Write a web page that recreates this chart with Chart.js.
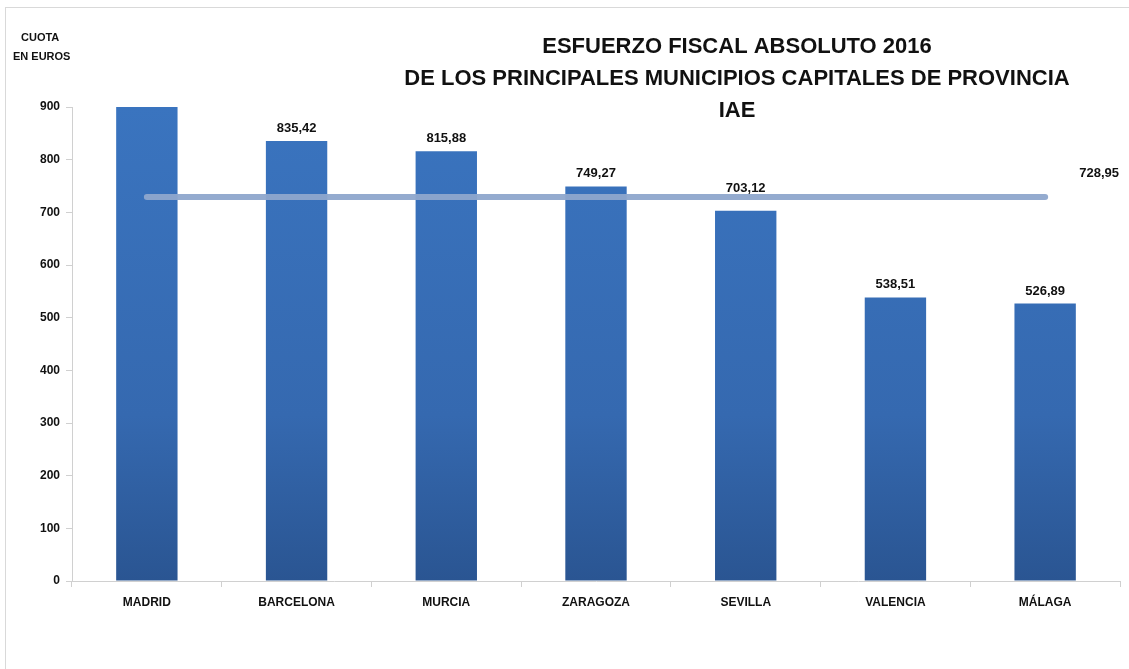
<!DOCTYPE html>
<html><head><meta charset="utf-8">
<script src="https://cdn.jsdelivr.net/npm/chart.js@4/dist/chart.umd.min.js"></script>
<style>
html,body{margin:0;padding:0;background:#fff;}
#wrap{position:relative;width:1129px;height:669px;overflow:hidden;}
#frame{position:absolute;left:5px;top:7px;width:1200px;height:700px;border:1px solid #d9d9d9;box-sizing:border-box;}
canvas{position:absolute;left:0;top:0;}
</style></head>
<body><div id="wrap"><div id="frame"></div><canvas id="c" width="1129" height="669"></canvas></div>
<script>
const categories = ["MADRID","BARCELONA","MURCIA","ZARAGOZA","SEVILLA","VALENCIA","MÁLAGA"];
// Madrid's bar is clipped at the top of the axis in the original; its value is estimated
const cuota = [1000, 835.42, 815.88, 749.27, 703.12, 538.51, 526.89];
const media = 728.95;
const mediaSeries = categories.map(() => media);
const yTicks = [0,100,200,300,400,500,600,700,800,900];
const titleLines = ["ESFUERZO FISCAL ABSOLUTO 2016","DE LOS PRINCIPALES MUNICIPIOS CAPITALES DE PROVINCIA","IAE"];
const axisTitleLines = ["CUOTA","EN EUROS"];

const FONT = '"Liberation Sans Narrow", "Liberation Sans", Arial, sans-serif';
const fmt = v => v.toFixed(2).replace('.', ',');

const barGradient = (ctx) => {
  const chart = ctx.chart; const a = chart.chartArea;
  if (!a) return '#3568AE';
  const g = chart.ctx.createLinearGradient(0, a.top, 0, a.bottom);
  g.addColorStop(0, '#3A74BF');
  g.addColorStop(0.65, '#3569B0');
  g.addColorStop(1, '#2A5592');
  return g;
};

const overlay = {
  id: 'overlay',
  afterDatasetsDraw(chart) {
    const c = chart.ctx; const y = chart.scales.y;
    const lineY = y.getPixelForValue(media);
    c.save();
    c.fillStyle = '#111';
    c.textAlign = 'center';
    c.textBaseline = 'alphabetic';
    c.font = 'bold 13px ' + FONT;
    const meta = chart.getDatasetMeta(0);
    meta.data.forEach((bar, i) => {
      const v = cuota[i];
      if (v > y.max) return;
      let base = bar.y - 9;
      // keep the label clear of the average line
      if (base > lineY - 4 && base - 12 < lineY + 4) base = lineY - 5;
      c.fillText(fmt(v), bar.x, base);
    });
    const lm = chart.getDatasetMeta(1);
    const last = lm.data[lm.data.length - 1];
    c.fillText(fmt(media), last.x + 54, last.y - 20);
    // title
    c.font = 'bold 22px ' + FONT;
    titleLines.forEach((t, i) => c.fillText(t, 737, 53 + i * 32));
    c.font = 'bold 11px ' + FONT;
    c.textAlign = 'left';
    axisTitleLines.forEach((t, i) => c.fillText(t, i === 0 ? 21 : 13, 41 + i * 19));
    c.restore();
  }
};

new Chart(document.getElementById('c'), {
  data: {
    labels: categories,
    datasets: [
      { type: 'bar', label: 'Cuota', data: cuota, backgroundColor: barGradient,
        borderColor: '#2F5F9E', borderWidth: 0, barPercentage: 0.41, categoryPercentage: 1, order: 2 },
      { type: 'line', label: 'Media', data: mediaSeries, borderColor: 'rgba(142,166,204,0.95)',
        borderWidth: 6, borderCapStyle: 'round', pointRadius: 0, fill: false, order: 1 }
    ]
  },
  options: {
    responsive: false, animation: false,
    layout: { padding: { top: 107, right: 9, left: 0, bottom: 0 } },
    plugins: { legend: { display: false }, tooltip: { enabled: false } },
    scales: {
      x: {
        grid: { display: true, drawOnChartArea: false, offset: true, color: '#d0d0d0', tickLength: 6 },
        border: { color: '#d0d0d0' },
        ticks: { color: '#111', font: { family: FONT, weight: 'bold', size: 12 }, padding: 8, maxRotation: 0 },
        afterFit: s => { s.height = 88; }
      },
      y: {
        min: 0, max: 900,
        afterBuildTicks: s => { s.ticks = yTicks.map(v => ({ value: v })); },
        grid: { display: true, drawOnChartArea: false, color: '#d0d0d0', tickLength: 6 },
        border: { color: '#d0d0d0' },
        ticks: { color: '#111', font: { family: FONT, weight: 'bold', size: 12 }, padding: 6 },
        afterFit: s => { s.width = 72; }
      }
    }
  },
  plugins: [overlay]
});
</script></body></html>
